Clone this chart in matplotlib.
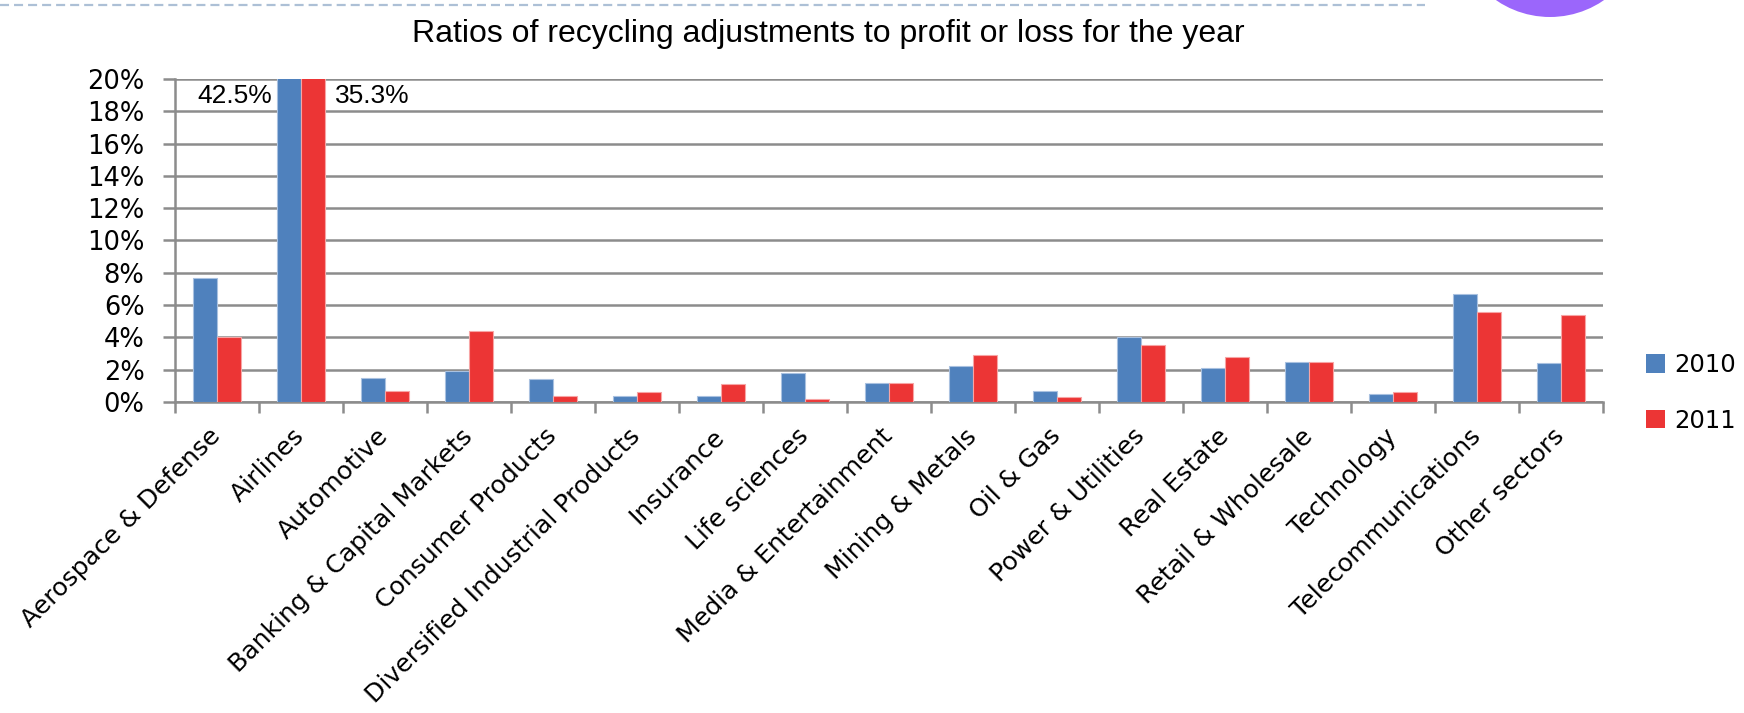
import matplotlib
matplotlib.use("Agg")
import matplotlib.pyplot as plt
import numpy as np
from matplotlib.patches import Ellipse, Patch
from matplotlib.lines import Line2D

plt.rcParams['lines.scale_dashes'] = False

categories = ["Aerospace & Defense", "Airlines", "Automotive", "Banking & Capital Markets",
              "Consumer Products", "Diversified Industrial Products", "Insurance",
              "Life sciences", "Media & Entertainment", "Mining & Metals", "Oil & Gas",
              "Power & Utilities", "Real Estate", "Retail & Wholesale", "Technology",
              "Telecommunications", "Other sectors"]
values_2010 = [7.7, 42.5, 1.5, 1.9, 1.4, 0.4, 0.4, 1.8, 1.2, 2.2, 0.7, 4.0, 2.1, 2.5, 0.5, 6.7, 2.4]
values_2011 = [4.0, 35.3, 0.7, 4.4, 0.4, 0.6, 1.1, 0.2, 1.2, 2.9, 0.3, 3.5, 2.8, 2.5, 0.6, 5.6, 5.4]
series_names = ["2010", "2011"]
y_ticks = [0, 2, 4, 6, 8, 10, 12, 14, 16, 18, 20]
title = "Ratios of recycling adjustments to profit or loss for the year"

W, H = 1744, 713
fig = plt.figure(figsize=(W / 100, H / 100), dpi=100)
ax = fig.add_axes([175 / W, 1 - 402 / H, (1603 - 175) / W, (402 - 79) / H])

blue = "#4f81bd"
red = "#ec3535"
grid_c = "#8c8c8c"
bw = 1 / 3.5
x = np.arange(len(categories))
ax.bar(x - bw / 2, values_2010, width=bw, color=blue, edgecolor="#a9c1e0", linewidth=0.8, zorder=3)
ax.bar(x + bw / 2, values_2011, width=bw, color=red, edgecolor="#f7a5a5", linewidth=0.8, zorder=3)

ymax = y_ticks[-1]
ax.set_ylim(0, ymax)
ax.set_xlim(-0.5, len(categories) - 0.5)

# labels for clipped bars
for i, (v1, v2) in enumerate(zip(values_2010, values_2011)):
    if v1 > ymax:
        ax.text(i - bw - 0.06, 18.95, f"{v1:.1f}%", ha="right", va="center",
                fontsize=19, family="Liberation Sans", color="black", zorder=4)
    if v2 > ymax:
        ax.text(i + bw + 0.12, 18.95, f"{v2:.1f}%", ha="left", va="center",
                fontsize=19, family="Liberation Sans", color="black", zorder=4)

ax.set_yticks(y_ticks)
ax.set_yticklabels([f"{t}%" for t in y_ticks], fontsize=18.5, family="DejaVu Sans")
ax.yaxis.grid(True, color=grid_c, linewidth=1.8, zorder=0)
ax.tick_params(axis="y", length=9, width=1.8, color=grid_c, pad=13)

ax.set_xticks(np.arange(len(categories) + 1) - 0.5)
ax.set_xticklabels([])
ax.set_xticks(x, minor=True)
ax.set_xticklabels(categories, minor=True, rotation=45, ha="right", va="center",
                   rotation_mode="anchor", fontsize=18.1, family="DejaVu Sans")
ax.tick_params(axis="x", which="major", length=8, width=1.8, color=grid_c)
ax.tick_params(axis="x", which="minor", length=0, pad=22)

for s in ["top", "right"]:
    ax.spines[s].set_visible(False)
for s in ["left", "bottom"]:
    ax.spines[s].set_color(grid_c)
    ax.spines[s].set_linewidth(1.8)
ax.set_axisbelow(True)

fig.text(828 / W, 1 - 34 / H, title, ha="center", va="center", fontsize=23,
         family="Liberation Sans", color="black")

handles = [Patch(facecolor=blue, edgecolor="none"), Patch(facecolor=red, edgecolor="none")]
fig.legend(handles, series_names, loc="upper left", bbox_to_anchor=(1646 / W, 1 - 353 / H),
           frameon=False, handlelength=0.8, handleheight=0.8,
           handletextpad=0.35, labelspacing=1.3, borderpad=0, borderaxespad=0,
           prop={"family": "DejaVu Sans", "size": 17.5})

# decorative dashed top line and purple circle
fig.add_artist(Line2D([0, 1425 / W], [1 - 5 / H, 1 - 5 / H], transform=fig.transFigure,
                      color="#adc0d6", linewidth=1.6, linestyle=(0, (6.5, 3.6))))
fig.add_artist(Ellipse((1550 / W, 1 + 78 / H), 2 * 95 / W, 2 * 95 / H,
                       transform=fig.transFigure, color="#9b66fb", linewidth=0))

fig.savefig("out.png", dpi=100)
